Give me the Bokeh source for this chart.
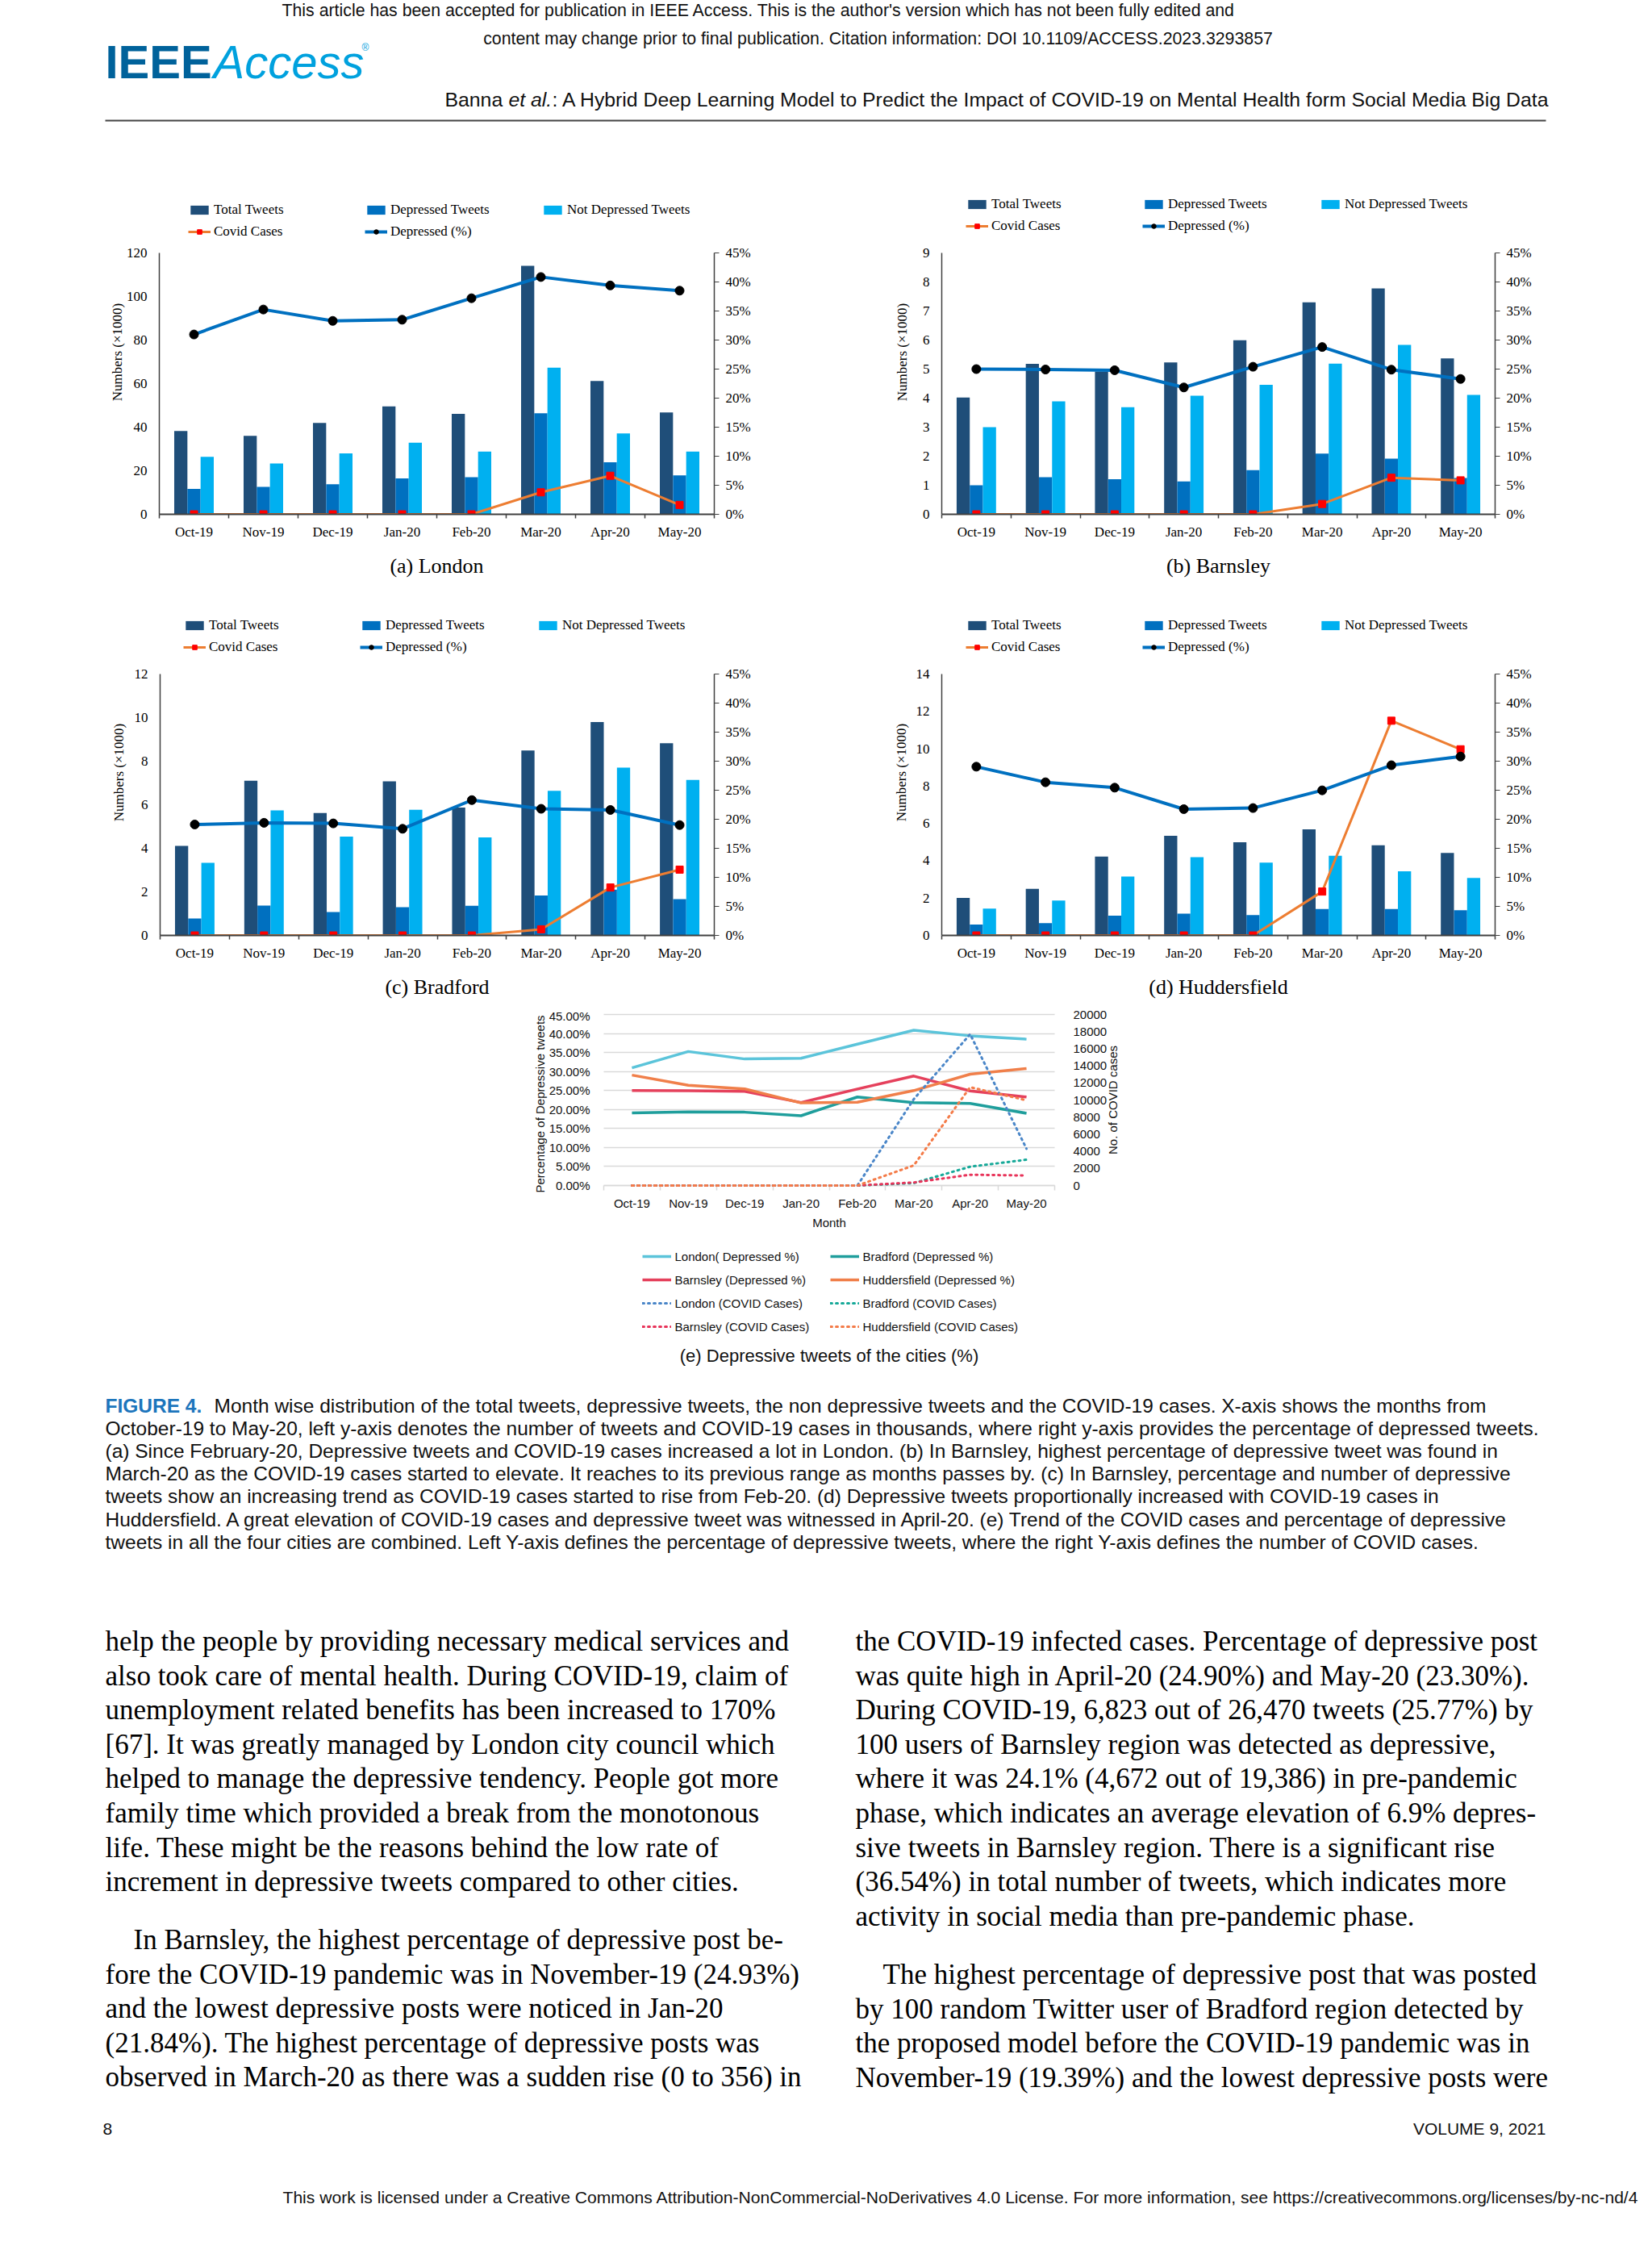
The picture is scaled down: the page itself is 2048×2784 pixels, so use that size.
import math
from bokeh.plotting import figure
from bokeh.models import (Range1d, LinearAxis, FixedTicker, SingleIntervalTicker,
                          PrintfTickFormatter, Legend, LegendItem, ColumnDataSource, Spacer, Label)
from bokeh.layouts import column, row
from bokeh.transform import dodge
from bokeh.core.properties import value
from bokeh.embed import file_html
from bokeh.resources import INLINE

# ---------------- data ----------------
months = ["Oct-19", "Nov-19", "Dec-19", "Jan-20", "Feb-20", "Mar-20", "Apr-20", "May-20"]

# London (tweets in thousands, covid in cases, depressed in %)
london_total = [38.2, 36.0, 41.9, 49.5, 46.1, 114.1, 61.2, 46.8]
london_depressed = [11.7, 12.6, 13.8, 16.5, 17.0, 46.4, 23.9, 17.9]
london_not_depressed = [26.4, 23.3, 28.0, 32.9, 28.8, 67.3, 37.1, 28.8]
london_covid = [0, 0, 0, 0, 0, 10100, 17700, 4300]
london_pct = [30.96, 35.26, 33.3, 33.5, 37.2, 40.85, 39.4, 38.5]

# Barnsley
barnsley_total = [4.02, 5.18, 4.92, 5.23, 5.99, 7.30, 7.78, 5.37]
barnsley_depressed = [1.00, 1.28, 1.21, 1.13, 1.52, 2.09, 1.92, 1.25]
barnsley_not_depressed = [3.00, 3.89, 3.69, 4.08, 4.46, 5.19, 5.83, 4.11]
barnsley_covid = [0, 0, 0, 0, 0, 356, 1260, 1170]
barnsley_pct = [25.0, 24.93, 24.8, 21.84, 25.4, 28.8, 24.90, 23.30]

# Bradford
bradford_total = [4.11, 7.10, 5.62, 7.07, 5.87, 8.49, 9.80, 8.82]
bradford_depressed = [0.78, 1.37, 1.07, 1.30, 1.36, 1.83, 2.10, 1.67]
bradford_not_depressed = [3.33, 5.74, 4.54, 5.77, 4.50, 6.64, 7.70, 7.14]
bradford_covid = [0, 0, 0, 0, 0, 280, 2200, 3020]
bradford_pct = [19.1, 19.39, 19.29, 18.36, 23.3, 21.8, 21.6, 19.0]

# Huddersfield
hudd_total = [2.01, 2.50, 4.22, 5.34, 4.99, 5.68, 4.83, 4.42]
hudd_depressed = [0.58, 0.66, 1.06, 1.17, 1.09, 1.42, 1.41, 1.35]
hudd_not_depressed = [1.44, 1.87, 3.15, 4.19, 3.90, 4.27, 3.44, 3.08]
hudd_covid = [0, 0, 0, 0, 0, 2350, 11500, 9970]
hudd_pct = [29.05, 26.37, 25.44, 21.74, 21.93, 24.98, 29.3, 30.8]

# ---------------- styles ----------------
SERIF = "Liberation Serif"
SANS = "Liberation Sans"
C_TOTAL = "#1F4E79"
C_DEP = "#0070C0"
C_NOT = "#00B0F0"
C_COVID = "#ED7D31"
AX = "#404040"


def city_chart(caption, total, dep, notdep, covid, pct, ymax, ystep, width, height,
               ml, mr, fig_top, top_px, zero_px, leg_x, leg_y, ylab_standoff):
    idx = list(range(len(months)))
    src = ColumnDataSource(dict(x=idx, total=total, dep=dep, notdep=notdep,
                                covid=[c / 1000 for c in covid], pct=pct))
    mt = 5
    frame_top = fig_top + mt
    ppu = (zero_px - top_px) / ymax
    y_end = (zero_px - frame_top) / ppu
    mb = fig_top + height - zero_px
    p = figure(width=width, height=height, x_range=Range1d(-0.5, len(months) - 0.5),
               y_range=Range1d(0, y_end), output_backend="svg", toolbar_location=None,
               min_border_left=ml, min_border_right=mr, min_border_top=mt,
               min_border_bottom=mb, title=caption, title_location="below")
    p.extra_y_ranges = {"pct": Range1d(0, 45 * y_end / ymax)}
    p.xgrid.visible = False
    p.ygrid.visible = False
    p.outline_line_color = None
    p.title.text_font = SERIF
    p.title.text_font_size = "26px"
    p.title.text_font_style = "normal"
    p.title.text_color = "#000000"
    p.title.align = "center"
    p.title.standoff = 26

    xa = p.xaxis[0]
    xa.ticker = FixedTicker(ticks=idx, minor_ticks=[i - 0.5 for i in range(len(months) + 1)])
    xa.major_label_overrides = {i: m for i, m in enumerate(months)}
    xa.major_tick_out = 0
    xa.major_tick_in = 0
    xa.minor_tick_out = 5
    xa.minor_tick_in = 0
    xa.minor_tick_line_color = AX
    xa.minor_tick_line_width = 1.5
    xa.axis_line_color = AX
    xa.axis_line_width = 2
    xa.major_label_text_font = SERIF
    xa.major_label_text_font_size = "17px"
    xa.major_label_text_color = "#000000"
    xa.major_label_standoff = 7

    ya = p.yaxis[0]
    ya.bounds = (0, ymax)
    ya.ticker = SingleIntervalTicker(interval=ystep, num_minor_ticks=0)
    ya.axis_label = "Numbers (\u00d71000)"
    ya.axis_label_text_font = SERIF
    ya.axis_label_text_font_size = "17px"
    ya.axis_label_text_font_style = "normal"
    ya.axis_label_text_color = "#000000"
    ya.axis_label_standoff = ylab_standoff
    ya.major_tick_out = 0
    ya.major_tick_in = 0
    ya.minor_tick_line_color = None
    ya.axis_line_color = AX
    ya.axis_line_width = 1.5
    ya.major_label_text_font = SERIF
    ya.major_label_text_font_size = "17px"
    ya.major_label_text_color = "#000000"
    ya.major_label_standoff = 15

    ra = LinearAxis(y_range_name="pct", ticker=SingleIntervalTicker(interval=5, num_minor_ticks=0),
                    formatter=PrintfTickFormatter(format="%d%%"), bounds=(0, 45))
    ra.major_tick_out = 6
    ra.major_tick_in = 0
    ra.major_tick_line_color = AX
    ra.minor_tick_line_color = None
    ra.axis_line_color = AX
    ra.axis_line_width = 1.5
    ra.major_label_text_font = SERIF
    ra.major_label_text_font_size = "17px"
    ra.major_label_text_color = "#000000"
    ra.major_label_standoff = 8
    p.add_layout(ra, "right")

    w = 0.19
    r_tot = p.vbar(x=dodge("x", -w), top="total", width=w, source=src,
                   fill_color=C_TOTAL, line_color=None)
    r_dep = p.vbar(x="x", top="dep", width=w, source=src, fill_color=C_DEP, line_color=None)
    r_not = p.vbar(x=dodge("x", w), top="notdep", width=w, source=src,
                   fill_color=C_NOT, line_color=None)
    r_cl = p.line("x", "covid", source=src, line_color=C_COVID, line_width=3)
    r_cm = p.scatter("x", "covid", source=src, marker="square", size=9,
                     fill_color="#FF0000", line_color="#FF0000")
    r_pl = p.line("x", "pct", source=src, y_range_name="pct", line_color=C_DEP, line_width=4)
    r_pm = p.scatter("x", "pct", source=src, y_range_name="pct", marker="circle", size=11,
                     fill_color="#000000", line_color="#000000")

    leg = Legend(items=[
        LegendItem(label="Total Tweets", renderers=[r_tot]),
        LegendItem(label="Depressed Tweets", renderers=[r_dep]),
        LegendItem(label="Not Depressed Tweets", renderers=[r_not]),
        LegendItem(label="Covid Cases", renderers=[r_cl, r_cm]),
        LegendItem(label="Depressed (%)", renderers=[r_pl, r_pm]),
    ], location=(leg_x, leg_y), orientation="horizontal", ncols=3)
    leg.border_line_color = None
    leg.background_fill_alpha = 0
    leg.padding = 0
    leg.margin = 0
    leg.spacing = 7
    leg.glyph_width = 28
    leg.glyph_height = 14
    leg.label_standoff = 4
    leg.label_width = 180
    leg.label_height = 20
    leg.label_text_font = SERIF
    leg.label_text_font_size = "17px"
    leg.label_text_color = "#000000"
    p.add_layout(leg, "center")
    return p


ROW1_TOP, ROW1_H = 230, 520
ROW2_TOP, ROW2_H = 750, 500

pa = city_chart("(a) London", london_total, london_depressed, london_not_depressed,
                london_covid, london_pct, 120, 20, 924, ROW1_H, 81, 155, ROW1_TOP, 313, 637, 36, 340, -1)
pb = city_chart("(b) Barnsley", barnsley_total, barnsley_depressed, barnsley_not_depressed,
                barnsley_covid, barnsley_pct, 9, 1, 1000, ROW1_H, 127, 187, ROW1_TOP, 313, 637, 30, 347, 13)
pc = city_chart("(c) Bradford", bradford_total, bradford_depressed, bradford_not_depressed,
                bradford_covid, bradford_pct, 12, 2, 924, ROW2_H, 82, 155, ROW2_TOP, 835, 1159, 29, 347, 7)
pd_ = city_chart("(d) Huddersfield", hudd_total, hudd_depressed, hudd_not_depressed,
                 hudd_covid, hudd_pct, 14, 2, 1000, ROW2_H, 127, 187, ROW2_TOP, 835, 1159, 30, 347, 6)

# ---------------- chart (e) ----------------
# figure box (page px) and plot box inside it
E_LEFT, E_TOP, E_W = 640, ROW2_TOP + ROW2_H, 760
E_H = 1710 - E_TOP
P_LEFT, P_RIGHT, P_TOP, P_ZERO = 748, 1307, 1257, 1469
n = len(months)
e_ppx = (P_RIGHT - P_LEFT) / n                # px per month
e_ppy = (P_ZERO - P_TOP) / 45.0               # px per percent
e_x0 = -0.5 - (P_LEFT - E_LEFT) / e_ppx
e_x1 = (n - 0.5) + (E_LEFT + E_W - P_RIGHT) / e_ppx
e_y1 = 45 + (P_TOP - E_TOP) / e_ppy
e_y0 = -(E_TOP + E_H - P_ZERO) / e_ppy


def ex_px(px):
    return -0.5 + (px - P_LEFT) / e_ppx


def ey_px(py):
    return (P_ZERO - py) / e_ppy


idx = list(range(n))
src_e = ColumnDataSource(dict(x=idx, lp=london_pct, bp=barnsley_pct, brp=bradford_pct,
                              hp=hudd_pct, lc=london_covid, bc=barnsley_covid,
                              brc=bradford_covid, hc=hudd_covid))
pe = figure(width=E_W, height=E_H, x_range=Range1d(e_x0, e_x1), y_range=Range1d(e_y0, e_y1),
            output_backend="svg", toolbar_location=None, min_border=0)
pe.extra_y_ranges = {"cases": Range1d(20000 * e_y0 / 45, 20000 * e_y1 / 45)}
pe.outline_line_color = None
pe.grid.visible = False

ex = pe.xaxis[0]
ex.fixed_location = 0
ex.bounds = (-0.5, n - 0.5)
ex.ticker = FixedTicker(ticks=idx, minor_ticks=[i - 0.5 for i in range(n + 1)])
ex.major_label_overrides = {i: m for i, m in enumerate(months)}
ex.major_tick_out = 0
ex.major_tick_in = 0
ex.minor_tick_out = 6
ex.minor_tick_in = 0
ex.minor_tick_line_color = "#d9d9d9"
ex.minor_tick_line_width = 1.5
ex.axis_line_color = "#d9d9d9"
ex.axis_line_width = 1.5
ex.major_label_text_font = SANS
ex.major_label_text_font_size = "15px"
ex.major_label_text_color = "#111111"
ex.major_label_standoff = 7
ex.level = "underlay"

ey = pe.yaxis[0]
ey.fixed_location = -0.5
ey.bounds = (0, 45)
ey.ticker = SingleIntervalTicker(interval=5, num_minor_ticks=0)
ey.formatter = PrintfTickFormatter(format="%.2f%%")
ey.axis_line_color = None
ey.major_tick_out = 0
ey.major_tick_in = int(round(P_RIGHT - P_LEFT))   # ticks drawn across as horizontal gridlines
ey.major_tick_line_color = "#d9d9d9"
ey.major_tick_line_width = 1.5
ey.minor_tick_line_color = None
ey.major_label_text_font = SANS
ey.major_label_text_font_size = "15px"
ey.major_label_text_color = "#111111"
ey.major_label_standoff = 17
ey.level = "underlay"

er = LinearAxis(y_range_name="cases", ticker=SingleIntervalTicker(interval=2000, num_minor_ticks=0),
                bounds=(0, 20000), fixed_location=n - 0.5)
er.axis_line_color = None
er.major_tick_line_color = None
er.minor_tick_line_color = None
er.major_label_text_font = SANS
er.major_label_text_font_size = "15px"
er.major_label_text_color = "#111111"
er.major_label_standoff = 17
pe.add_layout(er, "right")

r1 = pe.line("x", "lp", source=src_e, line_color="#5BC4DA", line_width=3.5)
r2 = pe.line("x", "brp", source=src_e, line_color="#1F9E9C", line_width=3.5)
r3 = pe.line("x", "bp", source=src_e, line_color="#E5415C", line_width=3.5)
r4 = pe.line("x", "hp", source=src_e, line_color="#F07F4A", line_width=3.5)
r5 = pe.line("x", "lc", source=src_e, y_range_name="cases", line_color="#4A86C8", line_width=3,
             line_dash="2 5", line_cap="round")
r6 = pe.line("x", "brc", source=src_e, y_range_name="cases", line_color="#17A999", line_width=3,
             line_dash="2 5", line_cap="round")
r7 = pe.line("x", "bc", source=src_e, y_range_name="cases", line_color="#E8345A", line_width=3,
             line_dash="2 5", line_cap="round")
r8 = pe.line("x", "hc", source=src_e, y_range_name="cases", line_color="#F47B48", line_width=3,
             line_dash="2 5", line_cap="round")
leg_e = Legend(items=[
    LegendItem(label="London( Depressed %)", renderers=[r1]),
    LegendItem(label="Bradford (Depressed %)", renderers=[r2]),
    LegendItem(label="Barnsley (Depressed %)", renderers=[r3]),
    LegendItem(label="Huddersfield (Depressed %)", renderers=[r4]),
    LegendItem(label="London (COVID Cases)", renderers=[r5]),
    LegendItem(label="Bradford (COVID Cases)", renderers=[r6]),
    LegendItem(label="Barnsley (COVID Cases)", renderers=[r7]),
    LegendItem(label="Huddersfield (COVID Cases)", renderers=[r8]),
], location=(795.5 - E_LEFT, E_TOP + E_H - 1654), orientation="horizontal", ncols=2)
leg_e.border_line_color = None
leg_e.background_fill_alpha = 0
leg_e.padding = 0
leg_e.margin = 0
leg_e.spacing = 9
leg_e.glyph_width = 36
leg_e.glyph_height = 18
leg_e.label_standoff = 5
leg_e.label_width = 183
leg_e.label_height = 20
leg_e.label_text_font = SANS
leg_e.label_text_font_size = "15px"
leg_e.label_text_color = "#111111"
pe.add_layout(leg_e, "center")


def e_label(px, py, s, size, angle=0.0):
    pe.add_layout(Label(x=ex_px(px), y=ey_px(py), text=s, angle=angle, text_align="center",
                        text_baseline="middle", text_font=SANS, text_font_size=size,
                        text_color="#111111"))


e_label(669, 1368, "Percentage of Depressive tweets", "15px", math.pi / 2)
e_label(1379, 1363, "No. of COVID cases", "15px", math.pi / 2)
e_label((P_LEFT + P_RIGHT) / 2, 1515, "Month", "15px")
e_label((P_LEFT + P_RIGHT) / 2, 1680, "(e) Depressive tweets of the cities (%)", "22px")


# ---------------- page text ----------------
PAGE_W = 2040


def page_fig(y0, h):
    p = figure(width=PAGE_W, height=h, x_range=Range1d(0, PAGE_W), y_range=Range1d(y0 + h, y0),
               x_axis_type=None, y_axis_type=None, output_backend="svg",
               toolbar_location=None, min_border=0)
    p.outline_line_color = None
    p.grid.visible = False
    return p


def put(p, x, y, s, size, font=SANS, color="#111111", style="normal", align="left",
        baseline="middle"):
    p.text(x=[x], y=[y], text=[s], text_font=value(font), text_font_size=size,
           text_font_style=style, text_color=color, text_align=align, text_baseline=baseline)


hdr = page_fig(0, ROW1_TOP)
put(hdr, 940, 12, "This article has been accepted for publication in IEEE Access. This is the author's version which has not been fully edited and", "21.3px", align="center")
put(hdr, 1088, 47, "content may change prior to final publication. Citation information: DOI 10.1109/ACCESS.2023.3293857", "21.3px", align="center")
put(hdr, 130, 76, "IEEE", "58px", color="#00629B", style="bold")
put(hdr, 264, 76, "Access", "58px", color="#00A1DE", style="italic")
put(hdr, 448, 58, "\u00ae", "12px", color="#00A1DE")
put(hdr, 551, 123, "Banna ", "24.8px", color="#111111")
put(hdr, 630, 123, "et al.", "24.8px", color="#111111", style="italic")
put(hdr, 684, 123, ": A Hybrid Deep Learning Model to Predict the Impact of COVID-19 on Mental Health form Social Media Big Data", "24.8px", color="#111111")
hdr.line(x=[130, 1916], y=[149, 149], line_color="#444444", line_width=2)

TXT_TOP = E_TOP + E_H
txt = page_fig(TXT_TOP, 2776 - TXT_TOP)
cap_lines = [
    "Month wise distribution of the total tweets, depressive tweets, the non depressive tweets and the COVID-19 cases. X-axis shows the months from",
    "October-19 to May-20, left y-axis denotes the number of tweets and COVID-19 cases in thousands, where right y-axis provides the percentage of depressed tweets.",
    "(a) Since February-20, Depressive tweets and COVID-19 cases increased a lot in London. (b) In Barnsley, highest percentage of depressive tweet was found in",
    "March-20 as the COVID-19 cases started to elevate. It reaches to its previous range as months passes by. (c) In Barnsley, percentage and number of depressive",
    "tweets show an increasing trend as COVID-19 cases started to rise from Feb-20. (d) Depressive tweets proportionally increased with COVID-19 cases in",
    "Huddersfield. A great elevation of COVID-19 cases and depressive tweet was witnessed in April-20. (e) Trend of the COVID cases and percentage of depressive",
    "tweets in all the four cities are combined. Left Y-axis defines the percentage of depressive tweets, where the right Y-axis defines the number of COVID cases.",
]
put(txt, 130, 1742, "FIGURE 4.", "24.5px", color="#1C75BC", style="bold")
for i, s in enumerate(cap_lines):
    put(txt, 265 if i == 0 else 130, 1742 + 28.1 * i, s, "24.5px")

left_p1 = [
    "help the people by providing necessary medical services and",
    "also took care of mental health. During COVID-19, claim of",
    "unemployment related benefits has been increased to 170%",
    "[67]. It was greatly managed by London city council which",
    "helped to manage the depressive tendency. People got more",
    "family time which provided a break from the monotonous",
    "life. These might be the reasons behind the low rate of",
    "increment in depressive tweets compared to other cities.",
]
left_p2 = [
    "In Barnsley, the highest percentage of depressive post be-",
    "fore the COVID-19 pandemic was in November-19 (24.93%)",
    "and the lowest depressive posts were noticed in Jan-20",
    "(21.84%). The highest percentage of depressive posts was",
    "observed in March-20 as there was a sudden rise (0 to 356) in",
]
right_p1 = [
    "the COVID-19 infected cases. Percentage of depressive post",
    "was quite high in April-20 (24.90%) and May-20 (23.30%).",
    "During COVID-19, 6,823 out of 26,470 tweets (25.77%) by",
    "100 users of Barnsley region was detected as depressive,",
    "where it was 24.1% (4,672 out of 19,386) in pre-pandemic",
    "phase, which indicates an average elevation of 6.9% depres-",
    "sive tweets in Barnsley region. There is a significant rise",
    "(36.54%) in total number of tweets, which indicates more",
    "activity in social media than pre-pandemic phase.",
]
right_p2 = [
    "The highest percentage of depressive post that was posted",
    "by 100 random Twitter user of Bradford region detected by",
    "the proposed model before the COVID-19 pandemic was in",
    "November-19 (19.39%) and the lowest depressive posts were",
]
LH = 42.6
BODY = "35px"
for i, s in enumerate(left_p1):
    put(txt, 130, 2034 + LH * i, s, BODY, font=SERIF, color="#000000")
for i, s in enumerate(left_p2):
    put(txt, 165 if i == 0 else 130, 2404 + LH * i, s, BODY, font=SERIF, color="#000000")
for i, s in enumerate(right_p1):
    put(txt, 1060, 2034 + LH * i, s, BODY, font=SERIF, color="#000000")
for i, s in enumerate(right_p2):
    put(txt, 1094 if i == 0 else 1060, 2447 + LH * i, s, BODY, font=SERIF, color="#000000")

put(txt, 127, 2638, "8", "21px")
put(txt, 1916, 2638, "VOLUME 9, 2021", "21px", align="right")
put(txt, 350, 2723, "This work is licensed under a Creative Commons Attribution-NonCommercial-NoDerivatives 4.0 License. For more information, see https://creativecommons.org/licenses/by-nc-nd/4", "21.1px")

layout = column(
    hdr,
    row(Spacer(width=116, height=ROW1_H), pa, pb),
    row(Spacer(width=116, height=ROW2_H), pc, pd_),
    row(Spacer(width=E_LEFT, height=E_H), pe, Spacer(width=PAGE_W - E_LEFT - E_W, height=E_H)),
    txt,
)

open("out.html", "w").write(file_html(layout, INLINE))
